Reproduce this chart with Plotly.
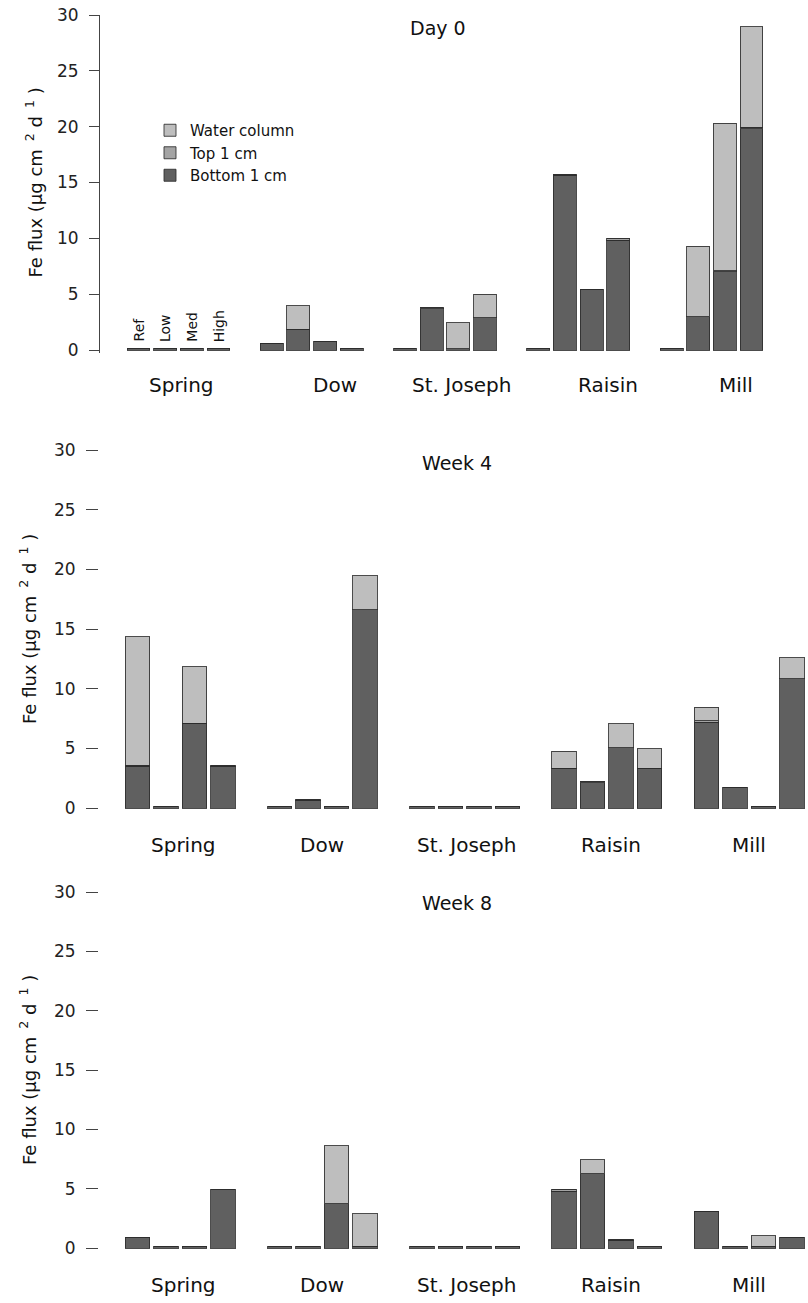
import plotly.graph_objects as go

W, H = 808, 1303
FONT = "DejaVu Sans"

sites = ["Spring", "Dow", "St. Joseph", "Raisin", "Mill"]
treatments = ["Ref", "Low", "Med", "High"]
panel_titles = ["Day 0", "Week 4", "Week 8"]
y_ticks = [0, 5, 10, 15, 20, 25, 30]

# values per site (Ref, Low, Med, High), sites in order above
day0_bottom = [0.1, 0.1, 0.1, 0.1,  0.6, 1.85, 0.75, 0.1,  0.1, 3.7, 0.1, 2.9,
               0.1, 15.65, 5.45, 9.85,  0.1, 3.0, 7.0, 19.8]
day0_top = [0, 0, 0, 0,  0, 0, 0, 0,  0, 0.1, 0, 0,
            0, 0.1, 0, 0.1,  0, 0, 0.1, 0.15]
day0_water = [0, 0, 0, 0,  0, 2.1, 0, 0,  0, 0, 2.35, 2.1,
              0, 0, 0, 0,  0, 6.3, 13.2, 9.0]

week4_bottom = [3.5, 0.1, 7.1, 3.5,  0.1, 0.65, 0.1, 16.6,  0.1, 0.1, 0.1, 0.1,
                3.35, 2.1, 5.05, 3.35,  7.2, 1.75, 0.1, 10.85]
week4_top = [0.1, 0, 0, 0.1,  0, 0.1, 0, 0,  0, 0, 0, 0,
             0, 0.1, 0, 0,  0.1, 0, 0, 0]
week4_water = [10.75, 0, 4.75, 0,  0, 0, 0, 2.85,  0, 0, 0, 0,
               1.4, 0, 2.0, 1.6,  1.15, 0, 0, 1.75]

week8_bottom = [0.85, 0.1, 0.1, 4.9,  0.1, 0.1, 3.75, 0.15,  0.1, 0.1, 0.1, 0.1,
                4.8, 6.25, 0.65, 0.1,  3.1, 0.1, 0.15, 0.85]
week8_top = [0, 0, 0, 0,  0, 0, 0, 0,  0, 0, 0, 0,
             0.1, 0, 0.1, 0,  0, 0, 0, 0]
week8_water = [0, 0, 0, 0,  0, 0, 4.85, 2.75,  0, 0, 0, 0,
               0, 1.2, 0, 0,  0, 0, 0.9, 0]

panels = [
    (day0_bottom, day0_top, day0_water),
    (week4_bottom, week4_top, week4_water),
    (week8_bottom, week8_top, week8_water),
]

series_names = ["Bottom 1 cm", "Top 1 cm", "Water column"]
series_colors = ["#606060", "#a4a4a4", "#bebebe"]

# x slot positions: 4 bars per site plus one empty slot between sites
slots = [si * 5 + ti for si in range(len(sites)) for ti in range(len(treatments))]


def py(px):
    return 1 - px / H


fig = go.Figure()
for p, vals in enumerate(panels):
    xa = "x" if p == 0 else f"x{p + 1}"
    ya = "y" if p == 0 else f"y{p + 1}"
    for name, color, v in zip(series_names, series_colors, vals):
        fig.add_trace(go.Bar(
            x=slots, y=v, width=0.86, name=name,
            marker=dict(color=color, line=dict(color="rgba(45,45,45,0.85)", width=1)),
            xaxis=xa, yaxis=ya, legendgroup=name, showlegend=(p == 0),
            hoverinfo="skip",
        ))

# geometry of the three panels (pixels)
x_dom_left = [100, 99, 99]
x_ranges = [[-1.445, 25.12], [-1.353, 23.57], [-1.353, 23.57]]
y_px = [(15, 352.8), (450, 811), (892, 1251)]
ticklens = [10, 12, 12]

for p in range(3):
    xk = "xaxis" if p == 0 else f"xaxis{p + 1}"
    yk = "yaxis" if p == 0 else f"yaxis{p + 1}"
    fig.layout[xk] = dict(
        domain=[x_dom_left[p] / W, 1], range=x_ranges[p], automargin=False,
        showticklabels=False, ticks="", showline=False, showgrid=False,
        zeroline=False, anchor="y" if p == 0 else f"y{p + 1}", fixedrange=True,
    )
    fig.layout[yk] = dict(
        domain=[py(y_px[p][1]), py(y_px[p][0])], range=[-0.25, 30], automargin=False,
        tickvals=y_ticks, ticks="outside", ticklen=ticklens[p], tickwidth=1,
        tickcolor="#444", showline=(p == 0), linecolor="#444", linewidth=1,
        showgrid=False, zeroline=False,
        tickfont=dict(family=FONT, size=17, color="#222"),
        ticklabelstandoff=7,
        anchor="x" if p == 0 else f"x{p + 1}", fixedrange=True,
    )

annotations = []
# panel titles
title_pos = [(438, 28), (457, 463), (457, 903)]
for t, (tx, ty) in zip(panel_titles, title_pos):
    annotations.append(dict(text=t, x=tx / W, y=py(ty), xref="paper", yref="paper",
                            showarrow=False, xanchor="center", yanchor="middle",
                            font=dict(family=FONT, size=19, color="#111")))

# site labels
label_x = [
    [1.63, 7.37, 12.1, 17.62, 22.42],
    [1.6, 6.5, 11.55, 16.65, 21.5],
    [1.6, 6.5, 11.55, 16.65, 21.5],
]
label_y = [385, 845, 1285]
for p in range(3):
    for s, lx in zip(sites, label_x[p]):
        annotations.append(dict(
            text=s, x=lx, y=py(label_y[p]),
            xref="x" if p == 0 else f"x{p + 1}", yref="paper",
            showarrow=False, xanchor="center", yanchor="middle",
            font=dict(family=FONT, size=20, color="#111")))

# y-axis titles
ytitle = "Fe flux (µg cm<sup>\u00a0\u00a02</sup> d<sup>\u00a0\u00a01</sup>\u00a0)"
ytitle_x = [35, 28, 28]
for p in range(3):
    annotations.append(dict(
        text=ytitle, x=ytitle_x[p] / W, y=15, xref="paper",
        yref="y" if p == 0 else f"y{p + 1}", textangle=-90, showarrow=False,
        xanchor="center", yanchor="middle",
        font=dict(family=FONT, size=18, color="#111")))

# treatment labels above Spring bars in first panel
for ti, t in enumerate(treatments):
    annotations.append(dict(
        text=t, x=slots[ti], y=0.55, xref="x", yref="y", textangle=-90,
        showarrow=False, xanchor="center", yanchor="bottom",
        font=dict(family=FONT, size=14, color="#111")))

fig.update_layout(
    template="none",
    width=W, height=H, margin=dict(l=0, r=0, t=0, b=0, pad=0, autoexpand=False),
    paper_bgcolor="white", plot_bgcolor="white", barmode="stack",
    annotations=annotations,
    legend=dict(x=150 / W, y=py(114), xanchor="left", yanchor="top",
                traceorder="reversed", bgcolor="rgba(0,0,0,0)", borderwidth=0,
                font=dict(family=FONT, size=15, color="#111"),
                itemclick=False, itemdoubleclick=False),
    showlegend=True,
)

fig.write_html("out.html", config={"displayModeBar": False},
               post_script="document.body.style.margin='0';document.body.style.padding='0';")
